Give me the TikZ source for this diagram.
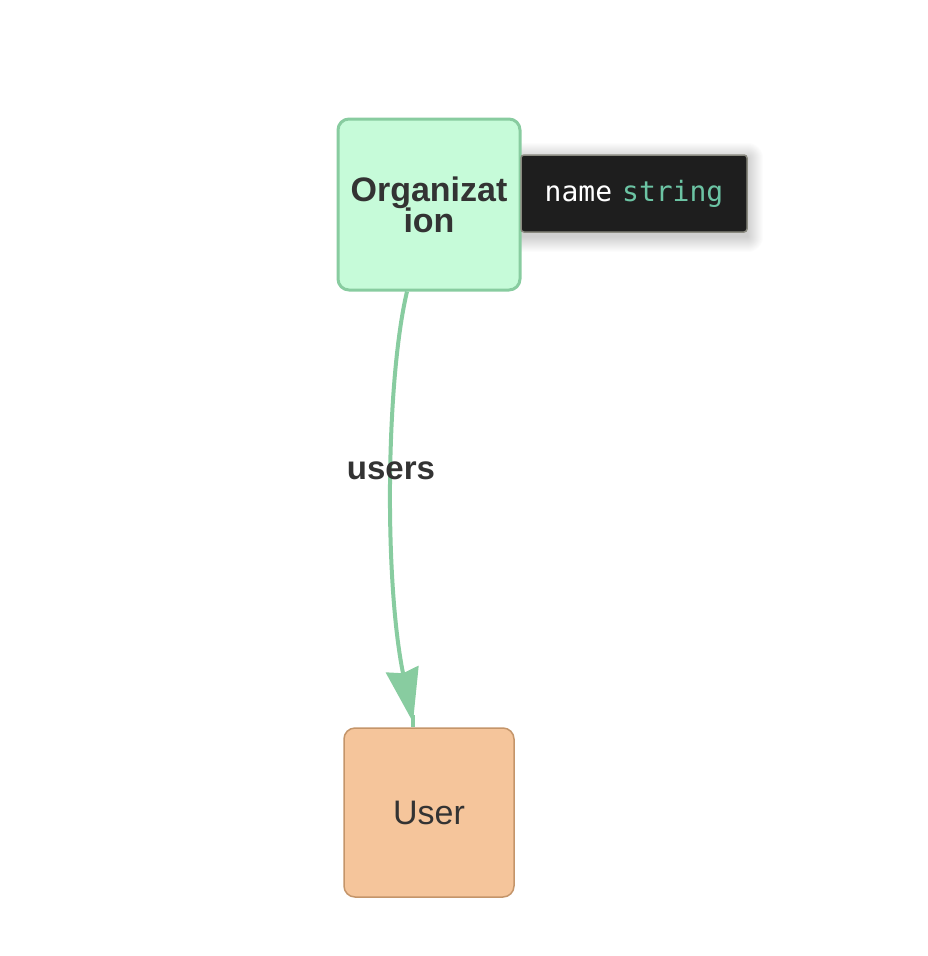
\documentclass[tikz,border=0pt]{standalone}
\usepackage{fontspec}
\setmainfont{Liberation Sans}
\newfontfamily\codefont{DejaVu Sans Mono}
\usetikzlibrary{arrows.meta,calc,backgrounds}
\definecolor{orgfill}{HTML}{C6FBD9}
\definecolor{orgline}{HTML}{88CCA0}
\definecolor{userfill}{HTML}{F5C59B}
\definecolor{userline}{HTML}{C4956A}
\definecolor{txt}{HTML}{333333}
\definecolor{tipfill}{HTML}{1E1E1E}
\definecolor{tipline}{HTML}{8A8A80}
\definecolor{strcol}{HTML}{6CC4A4}
\begin{document}
\begin{tikzpicture}[x=1pt,y=-1pt,
  entity/.style={rounded corners=11pt, minimum width=182pt, minimum height=171pt, inner sep=0pt, align=center, text=txt},
  tipbox/.style={fill=tipfill, draw=tipline, line width=1.5pt, rounded corners=3pt, minimum width=226pt, minimum height=77pt, inner sep=0pt,
    font=\codefont\fontsize{28}{30}\selectfont},
  rel/.style={draw=orgline, line width=4pt, -{Stealth[length=54pt,width=33pt,inset=4pt]}},
  rellabel/.style={text=txt, font=\bfseries\fontsize{33}{35}\selectfont}]
\useasboundingbox (0,0) rectangle (928,956);
\node[entity, fill=orgfill, draw=orgline, line width=3pt, font=\bfseries\fontsize{34}{32}\selectfont] (org) at (429,204.5) {Organizat\\[-1pt]ion};
\begin{scope}[on background layer]
  \node[minimum width=226pt, minimum height=77pt] (tipfoot) at (634,197.5) {};
  \foreach \i in {1,...,16}
    \fill[black, opacity=0.012, rounded corners=\i pt] ($(tipfoot.south west)+(-\i,\i)$) rectangle ($(tipfoot.north east)+(\i,-\i)$);
\end{scope}
\node[tipbox] (tip) at (634,193.5) {\textcolor{white}{name}\hspace{10pt}\textcolor{strcol}{string}};
\node[entity, fill=userfill, draw=userline, line width=1.5pt, minimum width=170pt, minimum height=169pt, font=\fontsize{34}{36}\selectfont] (user) at (429,812.5) {User};
\coordinate (s) at ($(org.south)+(-22,0)$);
\coordinate (e) at ($(user.north)+(-16,-5)$);
\draw[orgline, line width=4pt] ($(user.north)+(-16,-12)$) -- ($(user.north)+(-16,0)$);
\draw[rel] (s) .. controls (386,380) and (384,580) .. (e);
\node[rellabel] (lab) at (391,471) {users};
\end{tikzpicture}
\end{document}
